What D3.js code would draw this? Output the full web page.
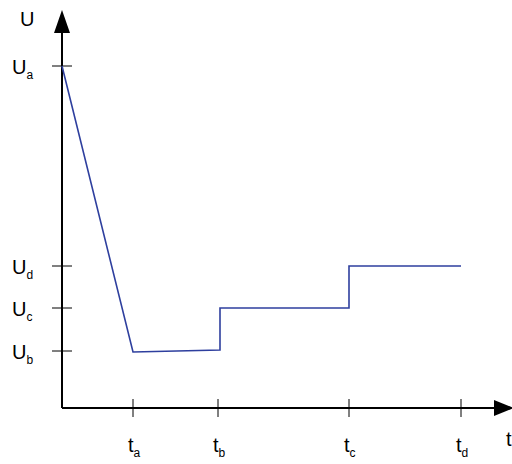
<!DOCTYPE html><html><head><script src="https://cdn.jsdelivr.net/npm/d3@7"></script>
<style>body{margin:0;background:#fff}text{font-family:Arial,"Liberation Sans",sans-serif}</style></head><body><svg id="c" width="512" height="464"></svg>
<script>
const tNames=["a","b","c","d"];
const tValues=[71,156,287,399];
const uNames=["a","b","c","d"];
const uValues=[342,57,100,142];
const path=[[0,342],[71,56],[158,58],[158,100],[287,100],[287,142],[399,142]];
const svg=d3.select("#c");
const x=d3.scaleLinear().domain([0,100]).range([62,162]);
const y=d3.scaleLinear().domain([0,100]).range([408,308]);
svg.append("line").attr("x1",x(0)).attr("y1",y(0)).attr("x2",x(0)).attr("y2",32).attr("stroke","#000").attr("stroke-width",2);
svg.append("path").attr("d",`M${x(0)},10L${x(0)-8},33L${x(0)+8},33Z`);
svg.append("line").attr("x1",x(0)).attr("y1",y(0)).attr("x2",495).attr("y2",y(0)).attr("stroke","#000").attr("stroke-width",2);
svg.append("path").attr("d",`M514,${y(0)}L494,${y(0)-8}L494,${y(0)+8}Z`);
svg.append("text").attr("x",20).attr("y",26).attr("font-size",20).text("U");
svg.append("text").attr("x",506).attr("y",446).attr("font-size",20).text("t");
uValues.forEach((v,i)=>{
  svg.append("line").attr("x1",x(0)-10).attr("x2",x(0)+10).attr("y1",y(v)).attr("y2",y(v)).attr("stroke","#000");
  const t=svg.append("text").attr("x",12).attr("y",y(v)+8).attr("font-size",20).text("U");
  t.append("tspan").attr("font-size",12).attr("dy",5).text(uNames[i]);
});
tValues.forEach((v,i)=>{
  svg.append("line").attr("x1",x(v)).attr("x2",x(v)).attr("y1",y(0)-9).attr("y2",y(0)+9).attr("stroke","#000");
  const t=svg.append("text").attr("x",x(v)-5).attr("y",452).attr("font-size",20).text("t");
  t.append("tspan").attr("font-size",12).attr("dy",5).text(tNames[i]);
});
svg.append("path").attr("d",d3.line().x(d=>x(d[0])).y(d=>y(d[1]))(path)).attr("fill","none").attr("stroke","#2e3f9e").attr("stroke-width",1.6);
</script></body></html>
